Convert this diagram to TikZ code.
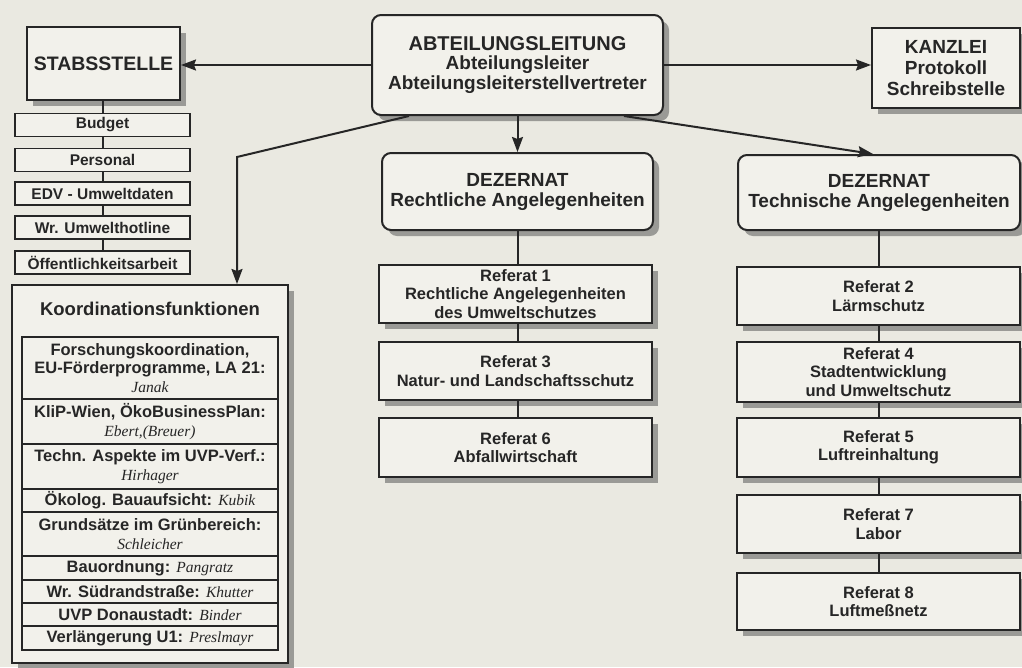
\documentclass[tikz,border=0pt]{standalone}
\usepackage{fontspec}
\setmainfont{Liberation Sans}
\newfontfamily\namefont{Liberation Serif}
\usetikzlibrary{arrows.meta,shadows,calc}
\definecolor{paper}{HTML}{EAE9E1}
\definecolor{boxfill}{HTML}{F2F1EB}
\definecolor{ink}{HTML}{262626}
\definecolor{shade}{HTML}{9A9A96}
\newcommand\nm[1]{{\namefont\mdseries\itshape\fontsize{15.5}{17}\selectfont #1}}
\tikzset{
  box/.style={draw=ink, line width=2pt, fill=boxfill, align=center, text=ink,
    font=\bfseries\fontsize{16.5}{18.5}\selectfont, inner sep=0pt},
  shad/.style={drop shadow={shadow xshift=6pt,shadow yshift=-6pt,fill=shade,opacity=1}},
  rbox/.style={box, rounded corners=9pt, shad},
  refbox/.style={box, shad},
  smallbox/.style={box, line width=1.7pt, minimum width=175pt, minimum height=23pt,
    font=\bfseries\fontsize{15.5}{17}\selectfont},
  kbox/.style={box, line width=1.7pt, minimum width=256pt,
    font=\bfseries\fontsize{16.5}{18.5}\selectfont},
  big/.style={font=\bfseries\fontsize{19}{20}\selectfont},
  conn/.style={draw=ink, line width=2pt},
  arr/.style={conn, -{Stealth[length=15pt,width=11pt,inset=2pt]}},
}
\begin{document}
\begin{tikzpicture}[x=1pt,y=-1pt]
\useasboundingbox (0,0) rectangle (1022,667);
\fill[paper] (0,0) rectangle (1022,667);

% Stabsstelle
\node[box, shad, minimum width=153pt, minimum height=73pt, font=\bfseries\fontsize{19.5}{21}\selectfont] (stab) at (103.5,63.5) {STABSSTELLE};
\node[smallbox] (budget) at (102.5,125) {Budget};
\node[smallbox] (personal) at (102.5,160) {Personal};
\node[smallbox] (edv) at (102.5,193.5) {EDV - Umweltdaten};
\node[smallbox] (hotline) at (102.5,227.5) {Wr. Umwelthotline};
\node[smallbox] (oeff) at (102.5,262.5) {Öffentlichkeitsarbeit};
\draw[conn] (stab.south -| budget.north) -- (budget.north);
\draw[conn] (budget.south) -- (personal.north);
\draw[conn] (personal.south) -- (edv.north);
\draw[conn] (edv.south) -- (hotline.north);
\draw[conn] (hotline.south) -- (oeff.north);

% Koordinationsfunktionen
\node[box, shad, minimum width=276pt, minimum height=378pt] (koord) at (150,474) {};
\node[text=ink, font=\bfseries\fontsize{18.5}{20}\selectfont] (ktitle) at (150,309) {Koordinationsfunktionen};
\node[kbox, minimum height=62pt] (forsch) at (150,368) {Forschungskoordination,\\EU-Förderprogramme, LA 21:\\\nm{Janak}};
\node[kbox, minimum height=45pt] (klip) at (150,421.5) {KliP-Wien, ÖkoBusinessPlan:\\\nm{Ebert,(Breuer)}};
\node[kbox, minimum height=45pt] (techn) at (150,466.5) {Techn. Aspekte im UVP-Verf.:\\\nm{Hirhager}};
\node[kbox, minimum height=23pt] (oekolog) at (150,500.5) {Ökolog. Bauaufsicht: \nm{Kubik}};
\node[kbox, minimum height=44pt] (grund) at (150,534) {Grundsätze im Grünbereich:\\\nm{Schleicher}};
\node[kbox, minimum height=24pt] (bau) at (150,568) {Bauordnung: \nm{Pangratz}};
\node[kbox, minimum height=23pt] (sued) at (150,591.5) {Wr. Südrandstraße: \nm{Khutter}};
\node[kbox, minimum height=23pt] (uvp) at (150,614.5) {UVP Donaustadt: \nm{Binder}};
\node[kbox, minimum height=24pt] (verl) at (150,638) {Verlängerung U1: \nm{Preslmayr}};

% Abteilungsleitung
\node[rbox, big, minimum width=291pt, minimum height=100pt, font=\bfseries\fontsize{19}{19.5}\selectfont] (abt) at (517.5,65) {{\fontsize{20}{19.5}\selectfont ABTEILUNGSLEITUNG}\\Abteilungsleiter\\Abteilungsleiterstellvertreter};
\node[box, shad, minimum width=148pt, minimum height=80pt, font=\bfseries\fontsize{19}{21}\selectfont] (kanzlei) at (946,68) {KANZLEI\\Protokoll\\Schreibstelle};

% Dezernate
\node[rbox, big, minimum width=271pt, minimum height=77pt] (dezR) at (517.5,191.5) {DEZERNAT\\Rechtliche Angelegenheiten};
\node[rbox, big, minimum width=282pt, minimum height=75pt] (dezT) at (879,192.5) {DEZERNAT\\Technische Angelegenheiten};

% Referate left
\node[refbox, minimum width=273pt, minimum height=58pt] (ref1) at (515.5,294) {Referat 1\\Rechtliche Angelegenheiten\\des Umweltschutzes};
\node[refbox, minimum width=273pt, minimum height=58pt] (ref3) at (515.5,371) {Referat 3\\Natur- und Landschaftsschutz};
\node[refbox, minimum width=273pt, minimum height=59pt] (ref6) at (515.5,447.5) {Referat 6\\Abfallwirtschaft};

% Referate right
\node[refbox, minimum width=283pt, minimum height=58pt] (ref2) at (878.5,296) {Referat 2\\Lärmschutz};
\node[refbox, minimum width=283pt, minimum height=60pt] (ref4) at (878.5,372) {Referat 4\\Stadtentwicklung\\und Umweltschutz};
\node[refbox, minimum width=283pt, minimum height=59pt] (ref5) at (878.5,447.5) {Referat 5\\Luftreinhaltung};
\node[refbox, minimum width=283pt, minimum height=58pt] (ref7) at (878.5,524) {Referat 7\\Labor};
\node[refbox, minimum width=283pt, minimum height=57pt] (ref8) at (878.5,601.5) {Referat 8\\Luftmeßnetz};

% connectors
\draw[arr] (abt.west) -- (stab.east |- abt.west);
\draw[arr] (abt.east) -- (kanzlei.west |- abt.east);
\draw[arr] (abt.south) -- (dezR.north);
\draw[arr] ([xshift=-40pt]abt.south east) -- ([xshift=-6pt]dezT.north);
\coordinate (kbend) at (237,157);
\draw[arr] ([xshift=38pt]abt.south west) -- (kbend) -- (kbend |- koord.north);

\draw[conn] (dezR.south) -- (dezR.south |- ref1.north);
\draw[conn] (dezR.south |- ref1.south) -- (dezR.south |- ref3.north);
\draw[conn] (dezR.south |- ref3.south) -- (dezR.south |- ref6.north);

\draw[conn] (ref2.north -| dezT.south) -- (dezT.south);
\draw[conn] (ref2.south) -- (ref4.north);
\draw[conn] (ref4.south) -- (ref5.north);
\draw[conn] (ref5.south) -- (ref7.north);
\draw[conn] (ref7.south) -- (ref8.north);
\end{tikzpicture}
\end{document}
